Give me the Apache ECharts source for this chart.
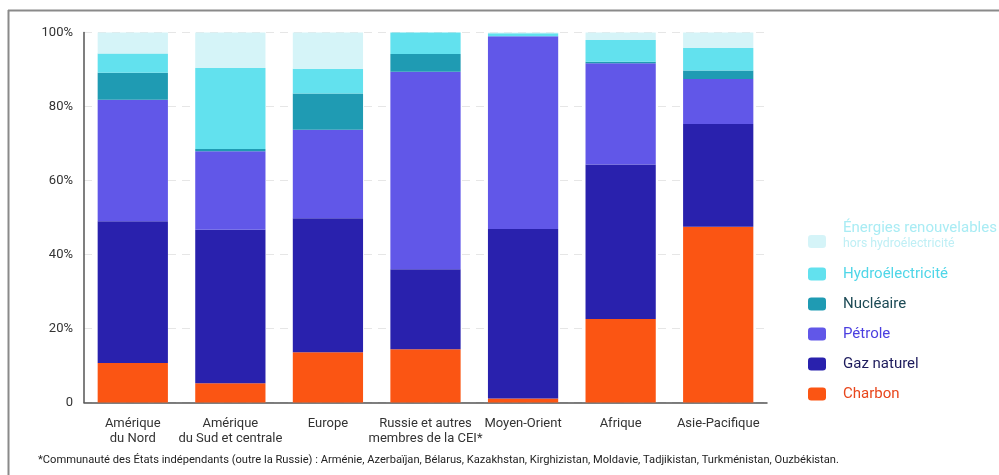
<!DOCTYPE html>
<html><head><meta charset="utf-8">
<script src="https://cdn.jsdelivr.net/npm/echarts@6/dist/echarts.min.js"></script>
<style>html,body{margin:0;padding:0;background:#fff}#c{width:999px;height:475px}</style>
</head><body><div id="c"></div>
<script>
const categories = ['Amérique\ndu Nord', 'Amérique\ndu Sud et centrale', 'Europe', 'Russie et autres\nmembres de la CEI*', 'Moyen-Orient', 'Afrique', 'Asie-Pacifique'];
const charbon      = [10.7, 5.2, 13.6, 14.4, 1.1, 22.6, 47.5];
const gazNaturel   = [38.3, 41.5, 36.2, 21.6, 45.8, 41.7, 27.8];
const petrole      = [32.8, 21.2, 23.9, 53.4, 52.1, 27.4, 12.1];
const nucleaire    = [7.3, 0.6, 9.8, 4.8, 0.0, 0.4, 2.3];
const hydro        = [5.2, 21.9, 6.7, 5.8, 0.8, 5.9, 6.1];
const renouvelables= [5.7, 9.6, 9.8, 0.0, 0.2, 2.0, 4.2];
const yTicks = [0, 20, 40, 60, 80, 100];

const FONT = 'Roboto, "Noto Sans", sans-serif';
const seriesDefs = [
  {name:'Charbon', data:charbon, color:'#fb5513', text:'#e8461c'},
  {name:'Gaz naturel', data:gazNaturel, color:'#2921ad', text:'#1d1b5c'},
  {name:'Pétrole', data:petrole, color:'#6157e8', text:'#4b3fe0'},
  {name:'Nucléaire', data:nucleaire, color:'#1f9bb3', text:'#1c4a55'},
  {name:'Hydroélectricité', data:hydro, color:'#62e1ee', text:'#4fd6e8'},
  {name:'Énergies renouvelables', data:renouvelables, color:'#d5f4f8', text:'#a9ecf4'}
];

const chart = echarts.init(document.getElementById('c'), null, {renderer:'canvas'});
chart.setOption({
  animation:false,
  textStyle:{fontFamily:FONT},
  grid:{left:84, right:232, top:32.5, bottom:72.5},
  xAxis:{
    type:'category', data:categories,
    axisLine:{lineStyle:{color:'#555', width:1.5}},
    axisTick:{show:false},
    axisLabel:{color:'#333', fontSize:13, lineHeight:15, margin:14, fontFamily:FONT, interval:0}
  },
  yAxis:{
    type:'value', min:0, max:100, interval:20,
    axisLine:{show:true, lineStyle:{color:'#555', width:1.5}},
    axisTick:{show:false},
    splitLine:{lineStyle:{color:'#e6e6e6', type:[8,6]}},
    axisLabel:{color:'#333', fontSize:13, margin:11, fontFamily:FONT,
      formatter:v => yTicks.includes(v) ? (v===0 ? '0' : v + '%') : ''}
  },
  legend:[
    {
      orient:'vertical', left:803, top:216, itemWidth:18, itemHeight:13,
      data:[{name:'Énergies renouvelables', textStyle:{color:'#a9ecf4'}}],
      formatter:()=> '{a|Énergies renouvelables}\n{b|hors hydroélectricité}',
      textStyle:{padding:[0,0,12,12], rich:{
        a:{fontSize:15, color:'#a9ecf4', fontFamily:FONT, lineHeight:16},
        b:{fontSize:12.3, color:'#bfeff5', fontFamily:FONT, lineHeight:14}
      }}
    },
    {
      orient:'vertical', left:803, top:260, itemWidth:18, itemHeight:13, itemGap:12,
      data:seriesDefs.slice(0,5).reverse().map(s=>({name:s.name, textStyle:{color:s.text}})),
      textStyle:{fontSize:15, fontFamily:FONT, padding:[0,0,0,12], lineHeight:18}
    }
  ],
  series: seriesDefs.map(s=>({
    name:s.name, type:'bar', stack:'total', data:s.data, barWidth:'72%',
    itemStyle:{color:s.color}
  })),
  graphic:[
    {type:'line', shape:{x1:8, y1:10.5, x2:999, y2:10.5}, style:{stroke:'#8a8a8a', lineWidth:2}},
    {type:'line', shape:{x1:8.5, y1:10, x2:8.5, y2:475}, style:{stroke:'#8a8a8a', lineWidth:2}},
    {type:'text', left:38, top:455, style:{text:'*Communauté des États indépendants (outre la Russie) : Arménie, Azerbaïjan, Bélarus, Kazakhstan, Kirghizistan, Moldavie, Tadjikistan, Turkménistan, Ouzbékistan.', fontSize:11.15, fill:'#222', fontFamily:FONT}}
  ]
});
</script></body></html>
